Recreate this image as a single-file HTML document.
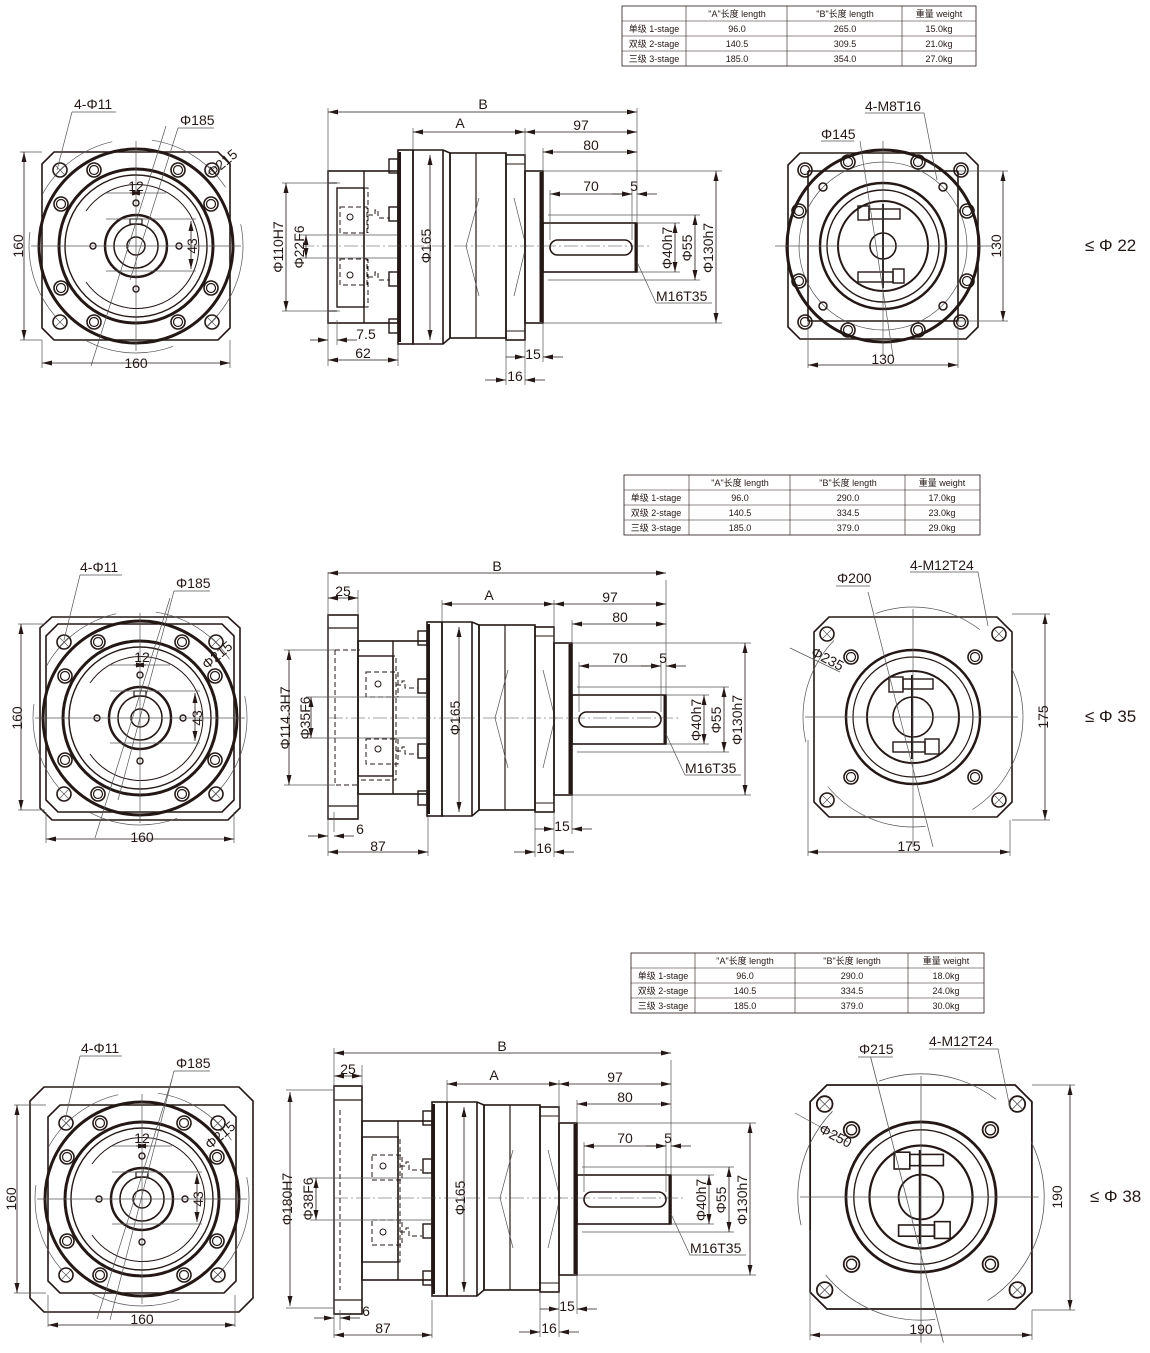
<!DOCTYPE html>
<html><head><meta charset="utf-8"><style>
html,body{margin:0;padding:0;background:#fff}
svg{display:block}
text{font-family:"Liberation Sans","Noto Sans CJK SC",sans-serif;fill:#231815}
.t{font-size:14px}
.tb{font-size:9px}
.k{stroke:#231815;fill:none}
.th{stroke:#555;fill:none;stroke-width:0.7}
.d{stroke:#231815;fill:none;stroke-width:0.8}
.ds{stroke:#231815;fill:none;stroke-width:1;stroke-dasharray:5 3}
.cl{stroke:#444;fill:none;stroke-width:0.6;stroke-dasharray:14 3 2 3}
</style></head><body>
<svg width="1150" height="1353" viewBox="0 0 1150 1353" xmlns="http://www.w3.org/2000/svg">
<defs>
<marker id="a" markerWidth="10" markerHeight="6" refX="10" refY="3" orient="auto-start-reverse" markerUnits="userSpaceOnUse"><path d="M0,0.5 L10,3 L0,5.5 Z" fill="#231815"/></marker>
<g id="hx"><circle r="7" class="k" stroke-width="1.6"/><path d="M-5,-5 L5,5 M-5,5 L5,-5" class="th"/></g>
<g id="hd"><circle r="7" class="k" stroke-width="1.6"/><circle r="4.5" class="k" stroke-width="1.2"/></g>
<g id="lv">
 <circle r="97" fill="none" stroke="#231815" stroke-width="3"/>
 <path d="M-82,-94 L82,-94 L94,-82 L94,82 L82,94 L-82,94 L-94,82 L-94,-82 Z" fill="#fff" class="k" stroke-width="1.6"/>
 <circle r="107" class="th" stroke-dasharray="90 40"/>
 <circle r="77" class="k" stroke-width="3"/>
 <circle r="71" class="k" stroke-width="1.4"/>
 <path d="M-50,-35 A62,62 0 1,1 -50,36" class="k" stroke-width="1"/>
 <circle r="31" class="k" stroke-width="2.5"/>
 <circle r="22" class="k" stroke-width="1.5"/>
 <circle r="9" class="k" stroke-width="1.5"/>
 <rect x="-6" y="-27" width="12" height="5" class="k" stroke-width="1.2"/>
 <circle cx="0" cy="-43" r="3" class="k" stroke-width="1.4"/><circle cx="0" cy="43" r="3" class="k" stroke-width="1.4"/>
 <circle cx="-43" cy="0" r="3" class="k" stroke-width="1.4"/><circle cx="43" cy="0" r="3" class="k" stroke-width="1.4"/>
 <use href="#hx" x="-76" y="-76"/><use href="#hx" x="76" y="-76"/><use href="#hx" x="-76" y="76"/><use href="#hx" x="76" y="76"/>
 <use href="#hd" x="-42" y="-76"/><use href="#hd" x="42" y="-76"/><use href="#hd" x="-42" y="76"/><use href="#hd" x="42" y="76"/>
 <use href="#hd" x="-75" y="-42"/><use href="#hd" x="75" y="-42"/><use href="#hd" x="-75" y="42"/><use href="#hd" x="75" y="42"/>
 <path d="M0,-105 V105 M-105,0 H105" class="th"/>
 <path d="M-30,-53 H30 M-30,-27 H60 M-30,25 H60" class="th"/>
 <line x1="-6" y1="-53" x2="6" y2="-53" class="d" marker-start="url(#a)" marker-end="url(#a)"/>
 <line x1="55" y1="-25" x2="55" y2="23" class="d" marker-start="url(#a)" marker-end="url(#a)"/>
 <line x1="-45" y1="120" x2="30" y2="-120" class="th"/>
</g>
<g id="body">
 <rect x="389" y="159" width="9" height="14" class="k" stroke-width="1.4"/>
 <rect x="389" y="207" width="9" height="14" class="k" stroke-width="1.4"/>
 <rect x="389" y="272" width="9" height="14" class="k" stroke-width="1.4"/>
 <rect x="389" y="319" width="9" height="14" class="k" stroke-width="1.4"/>
 <rect x="398" y="150" width="15" height="194" class="k" stroke-width="1.6"/>
 <line x1="399.5" y1="152" x2="399.5" y2="342" stroke="#231815" stroke-width="3"/>
 <path d="M413,150 H443 L450,153 V338 L443,344 H413 Z M443,150 V344" class="k" stroke-width="1.6"/>
 <rect x="450" y="153" width="56" height="185" class="k" stroke-width="1.6"/>
 <line x1="476" y1="153" x2="476" y2="338" class="k" stroke-width="1.2"/>
 <rect x="506" y="155" width="19" height="185" class="k" stroke-width="1.6"/>
 <path d="M506,164 H525 M506,331 H525" class="k" stroke-width="1"/>
 <path d="M479,198 L466,246 L479,296 M514,198 L526,246 L514,296" class="th"/>
 <rect x="525" y="171" width="18" height="152" class="k" stroke-width="1.6"/>
 <line x1="541" y1="172" x2="541" y2="322" stroke="#231815" stroke-width="3"/>
 <rect x="543" y="223" width="94" height="49" class="k" stroke-width="1.6"/>
 <line x1="636" y1="223" x2="636" y2="272" stroke="#231815" stroke-width="3"/>
 <rect x="550" y="240" width="82" height="15" rx="7.5" class="k" stroke-width="1.6"/>
 <line x1="300" y1="246" x2="650" y2="246" class="cl"/>
 <!-- ext lines -->
 <path d="M413,128 V150 M525,128 V171 M637,108 V223 M543,148 V171 M550,190 V240 M632,190 V240 M506,340 V385 M525,340 V385 M543,323 V362" class="th"/>
 <path d="M543,171 H722 M543,323 H722 M548,215 H700 M548,280 H700 M637,223 H680 M637,272 H680" class="th"/>
 <line x1="413" y1="132" x2="525" y2="132" class="d" marker-start="url(#a)" marker-end="url(#a)"/>
 <line x1="525" y1="132" x2="637" y2="132" class="d" marker-start="url(#a)" marker-end="url(#a)"/>
 <line x1="543" y1="152" x2="637" y2="152" class="d" marker-start="url(#a)" marker-end="url(#a)"/>
 <line x1="550" y1="194" x2="632" y2="194" class="d" marker-start="url(#a)" marker-end="url(#a)"/>
 <line x1="612" y1="194" x2="632" y2="194" class="d" marker-end="url(#a)"/>
 <line x1="657" y1="194" x2="637" y2="194" class="d" marker-end="url(#a)"/>
 <line x1="430" y1="155" x2="430" y2="340" class="d" marker-start="url(#a)" marker-end="url(#a)"/>
 <line x1="675" y1="223" x2="675" y2="272" class="d" marker-start="url(#a)" marker-end="url(#a)"/>
 <line x1="695" y1="215" x2="695" y2="280" class="d" marker-start="url(#a)" marker-end="url(#a)"/>
 <line x1="716" y1="171" x2="716" y2="323" class="d" marker-start="url(#a)" marker-end="url(#a)"/>
 <line x1="506" y1="357" x2="525" y2="357" class="d" marker-end="url(#a)"/>
 <line x1="563" y1="357" x2="543" y2="357" class="d" marker-end="url(#a)"/>
 <line x1="485" y1="380" x2="506" y2="380" class="d" marker-end="url(#a)"/>
 <line x1="545" y1="380" x2="525" y2="380" class="d" marker-end="url(#a)"/>
 <path d="M637,262 L656,303 H712" class="th"/>
 <text class="t" x="460" y="128" text-anchor="middle">A</text>
 <text class="t" x="581" y="130" text-anchor="middle">97</text>
 <text class="t" x="591" y="150" text-anchor="middle">80</text>
 <text class="t" x="591" y="191" text-anchor="middle">70</text>
 <text class="t" x="634" y="191" text-anchor="middle">5</text>
 <text class="t" x="533" y="359" text-anchor="middle">15</text>
 <text class="t" x="515" y="381" text-anchor="middle">16</text>
 <text class="t" x="656" y="301">M16T35</text>
 <text class="t" transform="translate(431,246) rotate(-90)" text-anchor="middle">Φ165</text>
 <text class="t" transform="translate(672,248) rotate(-90)" text-anchor="middle">Φ40h7</text>
 <text class="t" transform="translate(692,248) rotate(-90)" text-anchor="middle">Φ55</text>
 <text class="t" transform="translate(713,248) rotate(-90)" text-anchor="middle">Φ130h7</text>
</g>
<g id="rv2">
 <path d="M-84,-100 L84,-100 L99,-85 L99,85 L84,100 L-84,100 L-99,85 L-99,-85 Z" class="k" stroke-width="1.6"/>
 <circle r="110" class="th" stroke-dasharray="110 50"/>
 <circle r="67" class="k" stroke-width="2.5"/>
 <circle r="60" class="k" stroke-width="1.2"/>
 <circle r="46" class="k" stroke-width="2"/>
 <circle r="20" class="k" stroke-width="1.6"/>
 <rect x="-24" y="-40" width="14" height="15" class="k" stroke-width="1.4"/><rect x="-10" y="-38" width="30" height="10" class="k" stroke-width="1.4"/>
 <rect x="12" y="22" width="14" height="15" class="k" stroke-width="1.4"/><rect x="-20" y="25" width="32" height="10" class="k" stroke-width="1.4"/>
 <path d="M-1,-42 V42" stroke="#231815" stroke-width="2"/>
 <use href="#hx" x="-86" y="-83"/><use href="#hx" x="86" y="-83"/><use href="#hx" x="-86" y="83"/><use href="#hx" x="86" y="83"/>
 <use href="#hd" x="-62" y="-60"/><use href="#hd" x="62" y="-60"/><use href="#hd" x="-62" y="60"/><use href="#hd" x="62" y="60"/>
 <path d="M0,-108 V130 M-108,0 H105" class="th"/>
 <line x1="-45" y1="-125" x2="20" y2="130" class="th"/>
</g>
</defs>

<!-- TABLES -->
<g>
 <rect x="622" y="6" width="354" height="60" class="k" stroke-width="0.8"/>
 <path d="M622,21 H976 M622,36 H976 M622,51 H976 M686,6 V66 M787,6 V66 M902,6 V66" class="k" stroke-width="0.6"/>
 <text class="tb" x="737" y="17" text-anchor="middle">"A"长度 length</text><text class="tb" x="845" y="17" text-anchor="middle">"B"长度  length</text><text class="tb" x="939" y="17" text-anchor="middle">重量 weight</text>
 <text class="tb" x="654" y="32" text-anchor="middle">单级 1-stage</text><text class="tb" x="737" y="32" text-anchor="middle">96.0</text><text class="tb" x="845" y="32" text-anchor="middle">265.0</text><text class="tb" x="939" y="32" text-anchor="middle">15.0kg</text>
 <text class="tb" x="654" y="47" text-anchor="middle">双级 2-stage</text><text class="tb" x="737" y="47" text-anchor="middle">140.5</text><text class="tb" x="845" y="47" text-anchor="middle">309.5</text><text class="tb" x="939" y="47" text-anchor="middle">21.0kg</text>
 <text class="tb" x="654" y="62" text-anchor="middle">三级 3-stage</text><text class="tb" x="737" y="62" text-anchor="middle">185.0</text><text class="tb" x="845" y="62" text-anchor="middle">354.0</text><text class="tb" x="939" y="62" text-anchor="middle">27.0kg</text>
</g>
<g>
 <rect x="624" y="475" width="356" height="60" class="k" stroke-width="0.8"/>
 <path d="M624,490 H980 M624,505 H980 M624,520 H980 M689,475 V535 M790,475 V535 M905,475 V535" class="k" stroke-width="0.6"/>
 <text class="tb" x="740" y="486" text-anchor="middle">"A"长度 length</text><text class="tb" x="848" y="486" text-anchor="middle">"B"长度  length</text><text class="tb" x="942" y="486" text-anchor="middle">重量 weight</text>
 <text class="tb" x="656" y="501" text-anchor="middle">单级 1-stage</text><text class="tb" x="740" y="501" text-anchor="middle">96.0</text><text class="tb" x="848" y="501" text-anchor="middle">290.0</text><text class="tb" x="942" y="501" text-anchor="middle">17.0kg</text>
 <text class="tb" x="656" y="516" text-anchor="middle">双级 2-stage</text><text class="tb" x="740" y="516" text-anchor="middle">140.5</text><text class="tb" x="848" y="516" text-anchor="middle">334.5</text><text class="tb" x="942" y="516" text-anchor="middle">23.0kg</text>
 <text class="tb" x="656" y="531" text-anchor="middle">三级 3-stage</text><text class="tb" x="740" y="531" text-anchor="middle">185.0</text><text class="tb" x="848" y="531" text-anchor="middle">379.0</text><text class="tb" x="942" y="531" text-anchor="middle">29.0kg</text>
</g>
<g>
 <rect x="631" y="953" width="353" height="60" class="k" stroke-width="0.8"/>
 <path d="M631,968 H984 M631,983 H984 M631,998 H984 M695,953 V1013 M795,953 V1013 M908,953 V1013" class="k" stroke-width="0.6"/>
 <text class="tb" x="745" y="964" text-anchor="middle">"A"长度 length</text><text class="tb" x="852" y="964" text-anchor="middle">"B"长度  length</text><text class="tb" x="946" y="964" text-anchor="middle">重量 weight</text>
 <text class="tb" x="663" y="979" text-anchor="middle">单级 1-stage</text><text class="tb" x="745" y="979" text-anchor="middle">96.0</text><text class="tb" x="852" y="979" text-anchor="middle">290.0</text><text class="tb" x="946" y="979" text-anchor="middle">18.0kg</text>
 <text class="tb" x="663" y="994" text-anchor="middle">双级 2-stage</text><text class="tb" x="745" y="994" text-anchor="middle">140.5</text><text class="tb" x="852" y="994" text-anchor="middle">334.5</text><text class="tb" x="946" y="994" text-anchor="middle">24.0kg</text>
 <text class="tb" x="663" y="1009" text-anchor="middle">三级 3-stage</text><text class="tb" x="745" y="1009" text-anchor="middle">185.0</text><text class="tb" x="852" y="1009" text-anchor="middle">379.0</text><text class="tb" x="946" y="1009" text-anchor="middle">30.0kg</text>
</g>

<!-- ROW 1 LEFT -->
<use href="#lv" x="136" y="246"/>
<path d="M20,152 H42 M20,340 H42 M42,340 V368 M230,340 V368" class="th"/>
<line x1="24" y1="152" x2="24" y2="340" class="d" marker-start="url(#a)" marker-end="url(#a)"/>
<line x1="42" y1="363" x2="230" y2="363" class="d" marker-start="url(#a)" marker-end="url(#a)"/>
<text class="t" transform="translate(23,246) rotate(-90)" text-anchor="middle">160</text>
<text class="t" x="136" y="368" text-anchor="middle">160</text>
<path d="M72,112 H116 M72,112 L57,170" class="th"/><text class="t" x="74" y="109">4-Φ11</text>
<path d="M178,128 H214 M178,128 L130,280" class="th"/><text class="t" x="180" y="125">Φ185</text>
<text class="t" x="136" y="191" text-anchor="middle">12</text>
<text class="t" transform="translate(197,246) rotate(-90)" text-anchor="middle">43</text>
<text class="t" transform="translate(212,178) rotate(-40)">Φ215</text>
<!-- ROW 1 MID -->
<rect x="328" y="171" width="70" height="152" class="k" stroke-width="1.6"/>
<line x1="364" y1="171" x2="364" y2="323" class="k" stroke-width="1.4"/>
<path d="M328,183 H337 M328,311 H337" class="k" stroke-width="1.2"/>
<rect x="337" y="188" width="27" height="119" class="k" stroke-width="1.4"/>
<path d="M337,188 V307 M364,188 H368 V233 M364,307 H368 V259" class="ds"/>
<path d="M340,207 H367 V233 H340 Z M340,259 H367 V285 H340 Z M368,215 H375 V210 H378 V218 H390 M368,277 H375 V272 H378 V280 H390" class="ds"/>
<circle cx="350" cy="217" r="3" class="k" stroke-width="1"/><circle cx="350" cy="275" r="3" class="k" stroke-width="1"/>
<path d="M282,183 H340 M282,311 H340 M300,235 H398 M300,258 H398" class="th"/>
<line x1="286" y1="183" x2="286" y2="311" class="d" marker-start="url(#a)" marker-end="url(#a)"/>
<line x1="306" y1="235" x2="306" y2="258" class="d" marker-start="url(#a)" marker-end="url(#a)"/>
<text class="t" transform="translate(283,247) rotate(-90)" text-anchor="middle">Φ110H7</text>
<text class="t" transform="translate(304,247) rotate(-90)" text-anchor="middle">Φ22F6</text>
<path d="M328,108 V366 M337,320 V345 M398,330 V366" class="th"/>
<line x1="310" y1="340" x2="328" y2="340" class="d" marker-end="url(#a)"/>
<line x1="357" y1="340" x2="337" y2="340" class="d" marker-end="url(#a)"/>
<line x1="328" y1="360" x2="398" y2="360" class="d" marker-start="url(#a)" marker-end="url(#a)"/>
<text class="t" x="366" y="339" text-anchor="middle">7.5</text>
<text class="t" x="363" y="358" text-anchor="middle">62</text>
<line x1="328" y1="112" x2="637" y2="112" class="d" marker-start="url(#a)" marker-end="url(#a)"/>
<text class="t" x="483" y="109" text-anchor="middle">B</text>
<use href="#body"/>
<!-- ROW 1 RIGHT -->
<g transform="translate(883,246)">
 <path d="M-83,-93 L83,-93 L95,-81 L95,81 L83,93 L-83,93 L-95,81 L-95,-81 Z" class="k" stroke-width="1.6"/>
 <circle r="96" class="k" stroke-width="3"/>
 <path d="M-75,-75 H75 M-75,75 H75 M-75,-75 V75 M75,-75 V75" class="k" stroke-width="1.6"/>
 <circle r="84" class="th"/>
 <circle r="63" class="k" stroke-width="2.5"/>
 <circle r="56" class="k" stroke-width="1.4"/>
 <circle r="45" class="k" stroke-width="2"/>
 <circle r="13" class="k" stroke-width="1.6"/>
 <rect x="-25" y="-40" width="11" height="14" class="k" stroke-width="1.4"/><rect x="-14" y="-37" width="31" height="10" class="k" stroke-width="1.4"/>
 <rect x="10" y="23" width="11" height="14" class="k" stroke-width="1.4"/><rect x="-25" y="26" width="35" height="10" class="k" stroke-width="1.4"/>
 <path d="M0,-42 V42" stroke="#231815" stroke-width="2"/>
 <use href="#hd" x="-78" y="-76"/><use href="#hd" x="78" y="-76"/><use href="#hd" x="-78" y="76"/><use href="#hd" x="78" y="76"/>
 <circle cx="-60" cy="-59" r="4" class="k" stroke-width="1.5"/><circle cx="60" cy="-59" r="4" class="k" stroke-width="1.5"/><circle cx="-60" cy="60" r="4" class="k" stroke-width="1.5"/><circle cx="60" cy="60" r="4" class="k" stroke-width="1.5"/>
 <use href="#hd" x="-35" y="-84"/><use href="#hd" x="35" y="-84"/><use href="#hd" x="-35" y="84"/><use href="#hd" x="35" y="84"/>
 <use href="#hd" x="-84" y="-35"/><use href="#hd" x="84" y="-35"/><use href="#hd" x="-84" y="35"/><use href="#hd" x="84" y="35"/>
 <path d="M0,-105 V110 M-108,0 H110" class="th"/>
 <line x1="-23" y1="-105" x2="10" y2="110" class="th"/>
</g>
<path d="M958,171 H1008 M958,321 H1008 M808,321 V368 M958,321 V368" class="th"/>
<line x1="1003" y1="171" x2="1003" y2="321" class="d" marker-start="url(#a)" marker-end="url(#a)"/>
<line x1="808" y1="365" x2="958" y2="365" class="d" marker-start="url(#a)" marker-end="url(#a)"/>
<text class="t" transform="translate(1001,246) rotate(-90)" text-anchor="middle">130</text>
<text class="t" x="883" y="364" text-anchor="middle">130</text>
<path d="M821,141 H854" class="th"/><text class="t" x="821" y="139">Φ145</text>
<path d="M865,113 H924 L937,180" class="th"/><text class="t" x="865" y="111">4-M8T16</text>
<text x="1085" y="251" style="font-size:17px">≤ Φ 22</text>

<!-- ROW 2 LEFT -->
<path d="M40,628 L52,617 H228 L240,628 V808 L228,820 H52 L40,808 Z" class="k" stroke-width="1.6"/>
<use href="#lv" x="140" y="718"/>
<path d="M18,624 H45 M18,810 H45 M46,812 V843 M234,812 V843" class="th"/>
<line x1="21" y1="624" x2="21" y2="810" class="d" marker-start="url(#a)" marker-end="url(#a)"/>
<line x1="46" y1="839" x2="234" y2="839" class="d" marker-start="url(#a)" marker-end="url(#a)"/>
<text class="t" transform="translate(22,718) rotate(-90)" text-anchor="middle">160</text>
<text class="t" x="142" y="842" text-anchor="middle">160</text>
<path d="M80,575 H122 M80,575 L64,640" class="th"/><text class="t" x="80" y="572">4-Φ11</text>
<path d="M174,591 H210 M174,591 L118,800" class="th"/><text class="t" x="176" y="588">Φ185</text>
<text class="t" x="142" y="662" text-anchor="middle">12</text>
<text class="t" transform="translate(202,718) rotate(-90)" text-anchor="middle">43</text>
<text class="t" transform="translate(207,670) rotate(-40)">Φ215</text>
<!-- ROW 2 MID -->
<rect x="328" y="615" width="30" height="204" class="k" stroke-width="1.6"/>
<path d="M328,628 H358 M328,806 H358" class="k" stroke-width="1.2"/>
<rect x="358" y="641" width="70" height="153" class="k" stroke-width="1.6"/>
<line x1="393" y1="641" x2="393" y2="794" class="k" stroke-width="1.4"/>
<rect x="358" y="656" width="35" height="120" class="k" stroke-width="1.4"/>
<path d="M335,650 H360 M335,650 V785 H360 M358,656 H396 V780 H358 M366,672 H398 V697 H366 Z M366,739 H398 V764 H366 Z M396,685 H402 V681 H405 V688 H418 M396,751 H402 V747 H405 V754 H418" class="ds"/>
<circle cx="378" cy="684" r="3" class="k" stroke-width="1"/><circle cx="378" cy="749" r="3" class="k" stroke-width="1"/>
<path d="M284,650 H335 M284,785 H335 M306,697 H428 M306,738 H428" class="th"/>
<line x1="289" y1="650" x2="289" y2="785" class="d" marker-start="url(#a)" marker-end="url(#a)"/>
<line x1="311" y1="697" x2="311" y2="738" class="d" marker-start="url(#a)" marker-end="url(#a)"/>
<text class="t" transform="translate(290,718) rotate(-90)" text-anchor="middle">Φ114.3H7</text>
<text class="t" transform="translate(310,718) rotate(-90)" text-anchor="middle">Φ35F6</text>
<path d="M328,572 V856 M358,590 V615 M334,812 V832 M428,815 V856" class="th"/>
<line x1="328" y1="598" x2="358" y2="598" class="d" marker-start="url(#a)" marker-end="url(#a)"/>
<text class="t" x="343" y="596" text-anchor="middle">25</text>
<line x1="308" y1="836" x2="328" y2="836" class="d" marker-end="url(#a)"/>
<line x1="354" y1="836" x2="334" y2="836" class="d" marker-end="url(#a)"/>
<text class="t" x="360" y="834" text-anchor="middle">6</text>
<line x1="328" y1="852" x2="428" y2="852" class="d" marker-start="url(#a)" marker-end="url(#a)"/>
<text class="t" x="378" y="851" text-anchor="middle">87</text>
<line x1="328" y1="573" x2="666" y2="573" class="d" marker-start="url(#a)" marker-end="url(#a)"/>
<text class="t" x="497" y="571" text-anchor="middle">B</text>
<use href="#body" x="29" y="472"/>
<!-- ROW 2 RIGHT -->
<use href="#rv2" x="913" y="717"/>
<path d="M1012,614 H1050 M1012,820 H1050 M808,740 V856 M1010,820 V856" class="th"/>
<line x1="1045" y1="614" x2="1045" y2="820" class="d" marker-start="url(#a)" marker-end="url(#a)"/>
<line x1="808" y1="852" x2="1010" y2="852" class="d" marker-start="url(#a)" marker-end="url(#a)"/>
<text class="t" transform="translate(1048,717) rotate(-90)" text-anchor="middle">175</text>
<text class="t" x="909" y="851" text-anchor="middle">175</text>
<path d="M836,586 H870" class="th"/><text class="t" x="837" y="583">Φ200</text>
<path d="M910,572 H978 L988,626" class="th"/><text class="t" x="910" y="570">4-M12T24</text>
<path d="M790,648 L840,672" class="th"/>
<text class="t" transform="translate(810,655) rotate(28)">Φ235</text>
<text x="1085" y="722" style="font-size:17px">≤ Φ 35</text>

<!-- ROW 3 LEFT -->
<path d="M30,1101 L44,1087 H239 L253,1101 V1298 L239,1312 H44 L30,1298 Z" class="k" stroke-width="1.6"/>
<use href="#lv" x="142" y="1199"/>
<path d="M14,1105 H46 M14,1293 H46 M48,1295 V1327 M235,1295 V1327" class="th"/>
<line x1="17" y1="1105" x2="17" y2="1293" class="d" marker-start="url(#a)" marker-end="url(#a)"/>
<line x1="48" y1="1325" x2="235" y2="1325" class="d" marker-start="url(#a)" marker-end="url(#a)"/>
<text class="t" transform="translate(16,1199) rotate(-90)" text-anchor="middle">160</text>
<text class="t" x="142" y="1324" text-anchor="middle">160</text>
<path d="M80,1056 H122 M80,1056 L65,1120" class="th"/><text class="t" x="81" y="1053">4-Φ11</text>
<path d="M174,1071 H210 M174,1071 L110,1320" class="th"/><text class="t" x="176" y="1068">Φ185</text>
<text class="t" x="142" y="1143" text-anchor="middle">12</text>
<text class="t" transform="translate(203,1199) rotate(-90)" text-anchor="middle">43</text>
<text class="t" transform="translate(210,1150) rotate(-40)">Φ215</text>
<!-- ROW 3 MID -->
<rect x="334" y="1086" width="28" height="228" class="k" stroke-width="1.6"/>
<path d="M334,1100 H362 M334,1300 H362" class="k" stroke-width="1.2"/>
<rect x="362" y="1121" width="70" height="159" class="k" stroke-width="1.6"/>
<line x1="398" y1="1121" x2="398" y2="1280" class="k" stroke-width="1.4"/>
<rect x="362" y="1137" width="36" height="125" class="k" stroke-width="1.4"/>
<path d="M340,1110 V1290 M362,1137 H400 V1262 H362 M372,1155 H402 V1180 H372 Z M372,1220 H402 V1245 H372 Z M400,1166 H406 V1162 H409 V1170 H422 M400,1232 H406 V1228 H409 V1236 H422" class="ds"/>
<circle cx="383" cy="1166" r="3" class="k" stroke-width="1"/><circle cx="383" cy="1232" r="3" class="k" stroke-width="1"/>
<path d="M286,1090 H334 M286,1308 H334 M310,1178 H432 M310,1220 H432" class="th"/>
<line x1="290" y1="1092" x2="290" y2="1306" class="d" marker-start="url(#a)" marker-end="url(#a)"/>
<line x1="316" y1="1178" x2="316" y2="1220" class="d" marker-start="url(#a)" marker-end="url(#a)"/>
<text class="t" transform="translate(292,1199) rotate(-90)" text-anchor="middle">Φ180H7</text>
<text class="t" transform="translate(313,1199) rotate(-90)" text-anchor="middle">Φ38F6</text>
<path d="M334,1048 V1338 M362,1065 V1086 M340,1310 V1330 M432,1300 V1338" class="th"/>
<line x1="334" y1="1076" x2="362" y2="1076" class="d" marker-start="url(#a)" marker-end="url(#a)"/>
<text class="t" x="348" y="1074" text-anchor="middle">25</text>
<line x1="314" y1="1318" x2="334" y2="1318" class="d" marker-end="url(#a)"/>
<line x1="360" y1="1318" x2="340" y2="1318" class="d" marker-end="url(#a)"/>
<text class="t" x="366" y="1316" text-anchor="middle">6</text>
<line x1="334" y1="1335" x2="432" y2="1335" class="d" marker-start="url(#a)" marker-end="url(#a)"/>
<text class="t" x="383" y="1333" text-anchor="middle">87</text>
<line x1="334" y1="1053" x2="671" y2="1053" class="d" marker-start="url(#a)" marker-end="url(#a)"/>
<text class="t" x="502" y="1051" text-anchor="middle">B</text>
<use href="#body" x="34" y="952"/>
<!-- ROW 3 RIGHT -->
<g transform="translate(921,1197) scale(1.12)"><use href="#rv2"/></g>
<path d="M1032,1085 H1075 M1032,1310 H1075 M810,1230 V1340 M1032,1310 V1340" class="th"/>
<line x1="1070" y1="1085" x2="1070" y2="1310" class="d" marker-start="url(#a)" marker-end="url(#a)"/>
<line x1="810" y1="1335" x2="1032" y2="1335" class="d" marker-start="url(#a)" marker-end="url(#a)"/>
<text class="t" transform="translate(1062,1197) rotate(-90)" text-anchor="middle">190</text>
<text class="t" x="921" y="1334" text-anchor="middle">190</text>
<path d="M858,1057 H893" class="th"/><text class="t" x="859" y="1054">Φ215</text>
<path d="M929,1049 H998 L1010,1108" class="th"/><text class="t" x="929" y="1046">4-M12T24</text>
<path d="M795,1113 L848,1142" class="th"/>
<text class="t" transform="translate(818,1132) rotate(28)">Φ250</text>
<text x="1090" y="1202" style="font-size:17px">≤ Φ 38</text>
</svg>
</body></html>
